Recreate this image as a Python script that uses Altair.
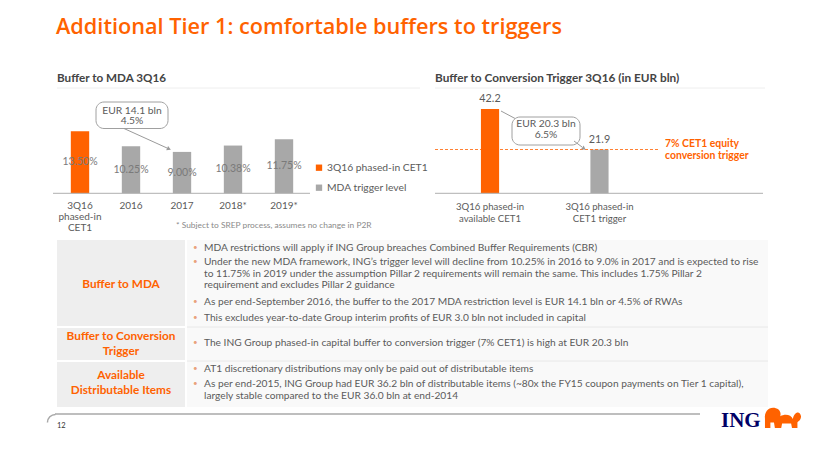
import altair as alt
import pandas as pd

# ---------------- data ----------------
mda_cats = ["3Q16 phased-in CET1", "2016", "2017", "2018*", "2019*"]
mda_vals = [13.50, 10.25, 9.00, 10.38, 11.75]
mda_labels = ["13.50%", "10.25%", "9.00%", "10.38%", "11.75%"]
mda_axis = ["3Q16\nphased-in\nCET1", "2016", "2017", "2018*", "2019*"]
mda_series = ["3Q16 phased-in CET1", "MDA trigger level", "MDA trigger level",
              "MDA trigger level", "MDA trigger level"]

conv_cats = ["3Q16 phased-in available CET1", "3Q16 phased-in CET1 trigger"]
conv_vals = [42.2, 21.9]
conv_labels = ["42.2", "21.9"]
conv_axis = ["3Q16 phased-in\navailable CET1", "3Q16 phased-in\nCET1 trigger"]
conv_series = ["3Q16 phased-in CET1", "MDA trigger level"]
trigger_value = [21.9]

series_names = ["3Q16 phased-in CET1", "MDA trigger level"]

mda_bullets = [
    ["MDA restrictions will apply if ING Group breaches Combined Buffer Requirements (CBR)"],
    ["Under the new MDA framework, ING\u2019s trigger level will decline from 10.25% in 2016 to 9.0% in 2017 and is expected to rise",
     "to 11.75% in 2019 under the assumption Pillar 2 requirements will remain the same. This includes 1.75% Pillar 2",
     "requirement and excludes Pillar 2 guidance"],
    ["As per end-September 2016, the buffer to the 2017 MDA restriction level is EUR 14.1 bln or 4.5% of RWAs"],
    ["This excludes year-to-date Group interim profits of EUR 3.0 bln not included in capital"],
]
conv_bullets = [["The ING Group phased-in capital buffer to conversion trigger (7% CET1) is high at EUR 20.3 bln"]]
dist_bullets = [
    ["AT1 discretionary distributions may only be paid out of distributable items"],
    ["As per end-2015, ING Group had EUR 36.2 bln of distributable items (~80x the FY15 coupon payments on Tier 1 capital),",
     "largely stable compared to the EUR 36.0 bln at end-2014"],
]

# ---------------- style ----------------
ORANGE = "#FF6200"
GREY = "#A8A8A8"
TXT = "#5b5b5b"
FONT = "Lato"
O = 8  # page margin -> image coords to chart coords

dummy = pd.DataFrame({"a": [0]})
colscale = alt.Scale(domain=series_names, range=[ORANGE, GREY])

layers = []


def T(text, x, y, size=9.0, color=TXT, weight="normal", align="left",
      baseline="middle", font=FONT):
    return alt.Chart(dummy).mark_text(
        text=text, align=align, baseline=baseline, fontSize=size, color=color,
        fontWeight=weight, font=font
    ).encode(x=alt.value(x - O), y=alt.value(y - O))


def R(x1, x2, y, color="#aaaaaa", width=1.0, dash=None, opacity=1.0):
    kw = dict(color=color, strokeWidth=width, opacity=opacity)
    if dash:
        kw["strokeDash"] = dash
    return alt.Chart(dummy).mark_rule(**kw).encode(
        x=alt.value(x1 - O), x2=alt.value(x2 - O), y=alt.value(y - O), y2=alt.value(y - O))


def seg(x1, y1, x2, y2, color="#9a9a9a", width=1.0):
    return alt.Chart(dummy).mark_rule(color=color, strokeWidth=width).encode(
        x=alt.value(x1 - O), x2=alt.value(x2 - O), y=alt.value(y1 - O), y2=alt.value(y2 - O))


def box(x1, x2, y1, y2, fill="#efefef", stroke=None, radius=0, sw=1.0):
    kw = dict(fill=fill, cornerRadius=radius)
    if stroke:
        kw["stroke"] = stroke
        kw["strokeWidth"] = sw
    return alt.Chart(dummy).mark_rect(**kw).encode(
        x=alt.value(x1 - O), x2=alt.value(x2 - O), y=alt.value(y1 - O), y2=alt.value(y2 - O))


def arrowhead(x, y, angle, color="#9a9a9a", size=22):
    return alt.Chart(dummy).mark_point(
        shape="triangle-right", angle=angle, filled=True, color=color, size=size, opacity=1
    ).encode(x=alt.value(x - O), y=alt.value(y - O))


# ---------------- title ----------------
layers.append(T("Additional Tier 1: comfortable buffers to triggers", 56, 34, size=21.7,
                color=ORANGE, weight=600, baseline="alphabetic", font="Open Sans"))

# ---------------- left chart: Buffer to MDA ----------------
layers.append(T("Buffer to MDA 3Q16", 57, 78, size=11.7, color="#444444", weight="bold"))
layers.append(R(57, 420, 88, color="#eeeeee"))

xL = alt.Scale(type="band", domain=mda_cats, range=[46.5, 301.5], paddingInner=0.64, paddingOuter=0.32)
yL = alt.Scale(type="linear", domain=[0, 15], range=[185.3, 116.3], nice=False, zero=True)

mda_df = pd.DataFrame({"cat": mda_cats, "val": mda_vals, "label": mda_labels,
                       "axis": mda_axis, "series": mda_series})

layers.append(alt.Chart(mda_df).mark_bar().encode(
    x=alt.X("cat:N", scale=xL, axis=None, sort=mda_cats),
    y=alt.Y("val:Q", scale=yL, axis=None),
    color=alt.Color("series:N", scale=colscale, legend=None),
))
layers.append(alt.Chart(mda_df).mark_text(fontSize=10.5, color="#7a7a7a", font=FONT, baseline="middle").encode(
    x=alt.X("cat:N", scale=xL, axis=None, sort=mda_cats),
    y=alt.Y("mid:Q", scale=yL, axis=None),
    text="label:N",
).transform_calculate(mid="datum.val / 2"))
layers.append(alt.Chart(mda_df).mark_text(fontSize=10, color=TXT, font=FONT, baseline="top",
                                          lineBreak="\n", lineHeight=11).encode(
    x=alt.X("cat:N", scale=xL, axis=None, sort=mda_cats),
    y=alt.value(201 - O),
    text="axis:N",
))
layers.append(R(53, 310, 193.3, color="#b0b0b0"))

# legend
layers.append(alt.Chart(pd.DataFrame({"s": [series_names[0]]})).mark_square(size=40, opacity=1).encode(
    x=alt.value(319 - O), y=alt.value(167.7 - O),
    color=alt.Color("s:N", scale=colscale, legend=None)))
layers.append(alt.Chart(pd.DataFrame({"s": [series_names[1]]})).mark_square(size=40, opacity=1).encode(
    x=alt.value(319 - O), y=alt.value(187.7 - O),
    color=alt.Color("s:N", scale=colscale, legend=None)))
layers.append(T(series_names[0], 327, 167.7, size=10.3))
layers.append(T(series_names[1], 327, 187.7, size=10.3))

layers.append(T("* Subject to SREP process, assumes no change in P2R", 176, 225, size=8.4, color="#8a8a8a"))

# callout left
layers.append(box(96, 168, 102, 128.5, fill="white", stroke="#a0a0a0", radius=8))
layers.append(T("EUR 14.1 bln", 132, 110.5, size=10.3, align="center"))
layers.append(T("4.5%", 132, 121, size=10.3, align="center"))
layers.append(seg(124, 128.5, 167, 148))
layers.append(arrowhead(169, 149, 24))

# ---------------- right chart: conversion trigger ----------------
layers.append(T("Buffer to Conversion Trigger 3Q16 (in EUR bln)", 435, 78, size=11.8, color="#444444", weight="bold"))
layers.append(R(435, 765, 88, color="#eeeeee"))

xR = alt.Scale(type="band", domain=conv_cats, range=[418.2, 655.3], paddingInner=0.834, paddingOuter=0.5)
yR = alt.Scale(type="linear", domain=[0, 50], range=[185.3, 85.3], nice=False, zero=True)

conv_df = pd.DataFrame({"cat": conv_cats, "val": conv_vals, "label": conv_labels,
                        "axis": conv_axis, "series": conv_series})

layers.append(alt.Chart(conv_df).mark_bar().encode(
    x=alt.X("cat:N", scale=xR, axis=None, sort=conv_cats),
    y=alt.Y("val:Q", scale=yR, axis=None),
    color=alt.Color("series:N", scale=colscale, legend=None),
))
layers.append(alt.Chart(conv_df).mark_text(fontSize=10.8, color=TXT, font=FONT, baseline="bottom", dy=-5).encode(
    x=alt.X("cat:N", scale=xR, axis=None, sort=conv_cats),
    y=alt.Y("val:Q", scale=yR, axis=None),
    text="label:N",
))
layers.append(alt.Chart(conv_df).mark_text(fontSize=9.6, color=TXT, font=FONT, baseline="top",
                                           lineBreak="\n", lineHeight=12.5).encode(
    x=alt.X("cat:N", scale=xR, axis=None, sort=conv_cats),
    y=alt.value(201.5 - O),
    text="axis:N",
))
layers.append(R(435, 763, 193.3, color="#b0b0b0"))

# trigger line (data-driven y)
layers.append(alt.Chart(pd.DataFrame({"t": trigger_value})).mark_rule(
    color=ORANGE, strokeDash=[3, 2], strokeWidth=1, opacity=0.8).encode(
    y=alt.Y("t:Q", scale=yR, axis=None),
    x=alt.value(435 - O), x2=alt.value(660 - O)))
layers.append(T("7% CET1 equity", 665, 143.5, size=10.4, color=ORANGE, weight="bold"))
layers.append(T("conversion trigger", 665, 155.5, size=10.4, color=ORANGE, weight="bold"))

# callout right
layers.append(seg(501, 111, 516, 119))
layers.append(box(512, 580, 117, 145, fill="white", stroke="#a0a0a0", radius=8))
layers.append(T("EUR 20.3 bln", 546, 123.5, size=10.3, align="center"))
layers.append(T("6.5%", 546, 134.5, size=10.3, align="center"))
layers.append(seg(574, 141, 582, 147))
layers.append(arrowhead(584, 148.5, 35))

# ---------------- table ----------------
rows = [(240, 326), (328, 360), (362, 407)]
for (a, b) in rows:
    layers.append(box(57, 185, a, b, fill="#eeeeee"))
    layers.append(box(187, 768, a, b, fill="#f9f9f9"))
layers.append(R(187, 768, 327, color="#e2e2e2"))
layers.append(R(187, 768, 361, color="#e2e2e2"))

LBL = 11.8
layers.append(T("Buffer to MDA", 121, 283.5, size=LBL, color=ORANGE, weight="bold", align="center"))
layers.append(T("Buffer to Conversion", 121, 336, size=LBL, color=ORANGE, weight="bold", align="center"))
layers.append(T("Trigger", 121, 350.5, size=LBL, color=ORANGE, weight="bold", align="center"))
layers.append(T("Available", 121, 375, size=LBL, color=ORANGE, weight="bold", align="center"))
layers.append(T("Distributable Items", 121, 389.5, size=LBL, color=ORANGE, weight="bold", align="center"))


def bullets(blist, ys):
    i = 0
    for b in blist:
        layers.append(T("\u2022", 193, ys[i], size=8, color="#e9a27c"))
        for line in b:
            layers.append(T(line, 204, ys[i], size=10.2))
            i += 1


bullets(mda_bullets, [248, 262, 273.5, 285, 301.5, 318])
bullets(conv_bullets, [343.3])
bullets(dist_bullets, [369, 384, 396])

# ---------------- footer ----------------
layers.append(R(55, 700, 414, color="#a8a8a8", width=1.5))
layers.append(alt.Chart(dummy).mark_arc(theta=4.71, theta2=6.283, innerRadius=7.3, outerRadius=8.8,
                                        color="#a8a8a8").encode(
    x=alt.value(55.5 - O), y=alt.value(422.5 - O)))
layers.append(T("12", 57, 425.5, size=7.5, color="#333333"))
layers.append(T("ING", 721, 421, size=21, color="#000066", weight="bold", font="Liberation Serif"))
lion = ("M-1,0.5 L-1,0.0 C-1.05,-0.45 -0.75,-0.7 -0.4,-0.6 C-0.15,-0.55 -0.1,-0.3 -0.15,-0.15 "
        "C0.1,-0.3 0.45,-0.25 0.55,0.0 C0.6,-0.4 0.95,-0.5 1.0,-0.15 C1.0,0.1 0.8,0.15 0.8,0.2 "
        "L0.8,0.5 L0.5,0.5 L0.45,0.25 L-0.05,0.25 L-0.1,0.5 L-0.45,0.5 L-0.5,0.2 L-0.7,0.2 L-0.7,0.5 Z")
layers.append(alt.Chart(dummy).mark_point(shape=lion, filled=True, color=ORANGE, size=1300, opacity=1).encode(
    x=alt.value(783 - O), y=alt.value(419 - O)))

chart = alt.layer(*layers).resolve_scale(
    x="independent", y="independent", color="independent"
).properties(width=813, height=433, padding=0, autosize="none").configure_view(stroke=None)

chart.save("out.html", embed_options={"renderer": "svg", "actions": False})
